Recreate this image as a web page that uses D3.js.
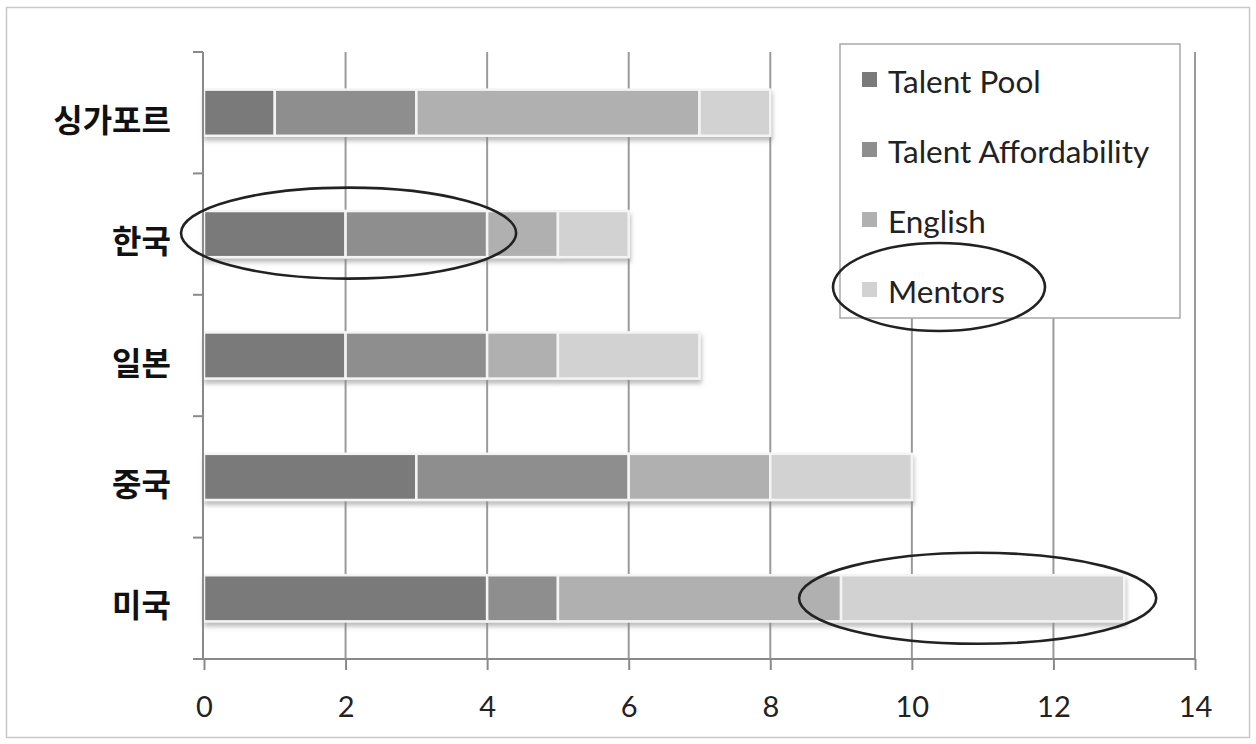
<!DOCTYPE html>
<html>
<head>
<meta charset="utf-8">
<script src="https://cdn.jsdelivr.net/npm/d3@7"></script>
<style>
  html, body { margin: 0; padding: 0; background: #fff; }
  svg { display: block; }
</style>
</head>
<body>
<svg id="chart" width="1256" height="744"></svg>
<script>
// Countries, top to bottom
const countries = ["싱가포르", "한국", "일본", "중국", "미국"];
// Stacked series
const seriesNames = ["Talent Pool", "Talent Affordability", "English", "Mentors"];
const talentPool = [1, 2, 2, 3, 4];
const talentAffordability = [2, 2, 2, 3, 1];
const english = [4, 1, 1, 2, 4];
const mentors = [1, 1, 2, 2, 4];
const seriesColors = ["#7a7a7a", "#8e8e8e", "#b0b0b0", "#d2d2d2"];
// X axis ticks
const xTicks = [0, 2, 4, 6, 8, 10, 12, 14];
// Hand-drawn highlight ellipses: [country, from, to]
const highlights = [["한국", 0, 4], ["미국", 9, 13]];

const svg = d3.select("#chart");

// drop shadow under each bar
const defs = svg.append("defs");
const f = defs.append("filter").attr("id", "barShadow")
  .attr("x", "-5%").attr("y", "-20%").attr("width", "110%").attr("height", "160%");
f.append("feDropShadow").attr("dx", 1).attr("dy", 4).attr("stdDeviation", 2)
  .attr("flood-color", "#888").attr("flood-opacity", 0.55);

// outer frame
svg.append("rect").attr("x", 6.5).attr("y", 7.5).attr("width", 1243).attr("height", 730)
  .attr("fill", "none").attr("stroke", "#c8c8c8").attr("stroke-width", 1.5);

const plot = { left: 204, right: 1195, top: 52, bottom: 659 };

const x = d3.scaleLinear().domain([0, 14]).range([plot.left, plot.right]);
const y = d3.scaleBand().domain(countries).range([plot.top, plot.bottom]).padding(0);
const barH = y.bandwidth() * 0.38;
const mid = c => y(c) + y.bandwidth() / 2;

const table = countries.map((c, i) => ({
  country: c,
  "Talent Pool": talentPool[i],
  "Talent Affordability": talentAffordability[i],
  "English": english[i],
  "Mentors": mentors[i]
}));
const stacked = d3.stack().keys(seriesNames)(table);

// vertical gridlines
svg.append("g").selectAll("line").data(xTicks.slice(1)).join("line")
  .attr("x1", d => x(d)).attr("x2", d => x(d))
  .attr("y1", plot.top).attr("y2", plot.bottom)
  .attr("stroke", "#9a9a9a").attr("stroke-width", 2);

// bars
const rows = svg.append("g").selectAll("g.row").data(countries).join("g")
  .attr("class", "row").attr("filter", "url(#barShadow)");
rows.each(function(c, i) {
  const g = d3.select(this);
  stacked.forEach((layer, k) => {
    const d = layer[i];
    g.append("rect")
      .attr("x", x(d[0])).attr("y", mid(c) - barH / 2)
      .attr("width", x(d[1]) - x(d[0])).attr("height", barH)
      .attr("fill", seriesColors[k])
      .attr("stroke", "#f4f4f4").attr("stroke-width", 2.5);
  });
});

// y axis
const yAxis = svg.append("g");
yAxis.append("line").attr("x1", plot.left - 1).attr("x2", plot.left - 1)
  .attr("y1", plot.top).attr("y2", plot.bottom)
  .attr("stroke", "#8a8a8a").attr("stroke-width", 2);
const yTickPos = countries.map(c => y(c)).concat([plot.bottom]);
yAxis.selectAll("line.tick").data(yTickPos).join("line").attr("class", "tick")
  .attr("x1", plot.left - 11).attr("x2", plot.left - 1)
  .attr("y1", d => d).attr("y2", d => d)
  .attr("stroke", "#8a8a8a").attr("stroke-width", 2);
yAxis.selectAll("text").data(countries).join("text")
  .attr("x", 171).attr("y", d => mid(d) + 5)
  .attr("text-anchor", "end").attr("dominant-baseline", "central")
  .attr("font-family", "'Noto Sans CJK KR', sans-serif").attr("font-weight", 700)
  .attr("font-size", 32).attr("fill", "#111")
  .text(d => d);

// x axis
const xAxis = svg.append("g").attr("transform", `translate(0,${plot.bottom})`)
  .call(d3.axisBottom(x).tickValues(xTicks).tickSize(11).tickPadding(26).tickFormat(d3.format("d")));
xAxis.select(".domain").attr("stroke", "#8a8a8a").attr("stroke-width", 2)
  .attr("d", `M${plot.left - 11},0H${plot.right}`);
xAxis.selectAll(".tick line").attr("stroke", "#8a8a8a").attr("stroke-width", 2);
xAxis.selectAll(".tick text").attr("font-family", "Lato, 'Open Sans', sans-serif")
  .attr("font-size", 29).attr("fill", "#222");

// legend
const lg = svg.append("g");
lg.append("rect").attr("x", 840).attr("y", 44).attr("width", 340).attr("height", 274)
  .attr("fill", "#fff").attr("stroke", "#a8a8a8").attr("stroke-width", 1.5);
const legendY = d3.scalePoint().domain(seriesNames).range([93, 303]);
const items = lg.selectAll("g").data(seriesNames).join("g")
  .attr("transform", d => `translate(862,${legendY(d)})`);
items.append("rect").attr("x", 0).attr("y", -21).attr("width", 15).attr("height", 15)
  .attr("fill", (d, i) => seriesColors[i]);
items.append("text").attr("x", 26).attr("y", 0)
  .attr("font-family", "Lato, 'Open Sans', sans-serif").attr("font-size", 31.5).attr("fill", "#222")
  .text(d => d);

// highlight ellipses around bar segments
const ell = svg.append("g").attr("fill", "none").attr("stroke", "#222").attr("stroke-width", 2.6);
const pads = [26, 37];
highlights.forEach(([c, a, b], i) => {
  const cx = (x(a) + x(b)) / 2 + (i === 1 ? -5 : 3);
  const rx = (x(b) - x(a)) / 2 + pads[i];
  ell.append("ellipse")
    .attr("cx", cx).attr("cy", mid(c) - (i === 0 ? 1 : 0))
    .attr("rx", rx).attr("ry", 45.5);
});
// ellipse around the Mentors legend entry
ell.append("ellipse").attr("cx", 939).attr("cy", 287).attr("rx", 106).attr("ry", 44);
</script>
</body>
</html>
